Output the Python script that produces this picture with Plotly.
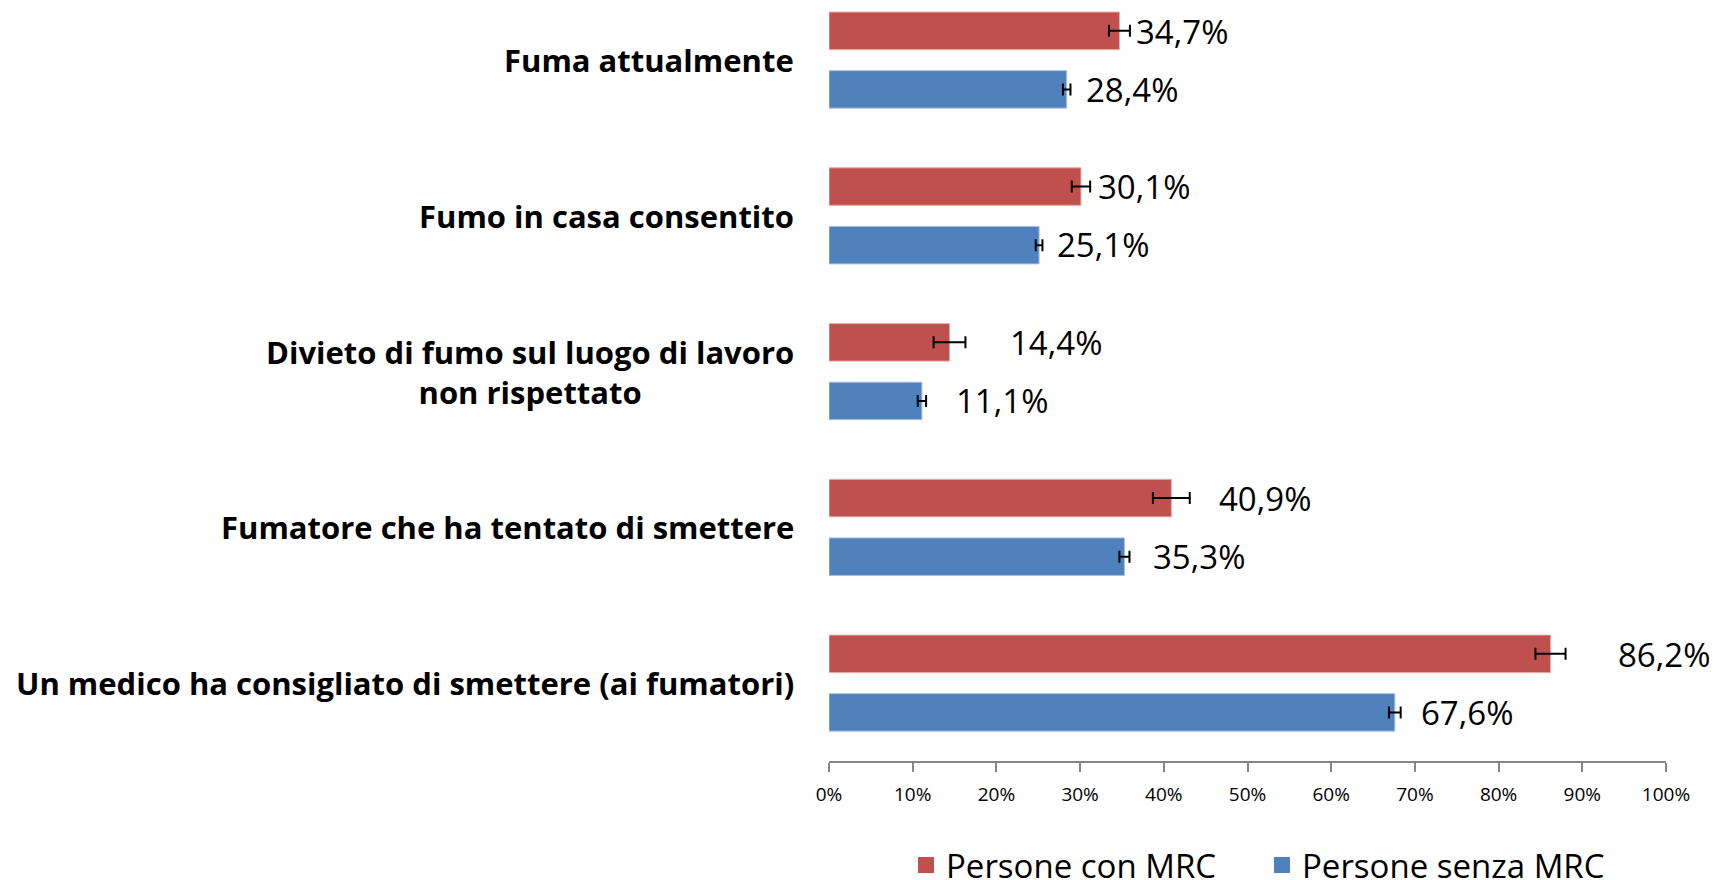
import plotly.graph_objects as go

categories = [
    "Fuma attualmente",
    "Fumo in casa consentito",
    "Divieto di fumo sul luogo di lavoro<br>non rispettato",
    "Fumatore che ha tentato di smettere",
    "Un medico ha consigliato di smettere (ai fumatori)",
]
series_names = ["Persone con MRC", "Persone senza MRC"]
con_mrc = [34.7, 30.1, 14.4, 40.9, 86.2]
senza_mrc = [28.4, 25.1, 11.1, 35.3, 67.6]
con_err = [1.25, 1.1, 1.9, 2.2, 1.8]
senza_err = [0.45, 0.4, 0.5, 0.6, 0.7]
con_labels = ["34,7%", "30,1%", "14,4%", "40,9%", "86,2%"]
senza_labels = ["28,4%", "25,1%", "11,1%", "35,3%", "67,6%"]
tick_vals = [0, 10, 20, 30, 40, 50, 60, 70, 80, 90, 100]
tick_text = ["0%", "10%", "20%", "30%", "40%", "50%", "60%", "70%", "80%", "90%", "100%"]

# styling (label pixel offsets to the right of bar ends)
con_label_shift = [15, 15, 58, 46, 66]
senza_label_shift = [17, 16, 32, 27, 24]
RED = "#C0504D"
BLUE = "#4F81BD"
FONT = "Open Sans"

fig = go.Figure()
fig.add_trace(go.Bar(
    y=categories, x=con_mrc, orientation="h", name=series_names[0], showlegend=False,
    marker=dict(color=RED, line=dict(color="#E3A9A7", width=1)),
    error_x=dict(type="data", array=con_err, color="black", thickness=2, width=6),
))
fig.add_trace(go.Bar(
    y=categories, x=senza_mrc, orientation="h", name=series_names[1], showlegend=False,
    marker=dict(color=BLUE, line=dict(color="#A9C0E0", width=1)),
    error_x=dict(type="data", array=senza_err, color="black", thickness=2, width=6),
))
# legend entries (square swatches)
for nm, col in zip(series_names, [RED, BLUE]):
    fig.add_trace(go.Scatter(x=[None], y=[None], mode="markers", name=nm,
                             marker=dict(symbol="square", size=22, color=col),
                             showlegend=True))

annotations = []
for cat, v, lab, sh in zip(categories, con_mrc, con_labels, con_label_shift):
    annotations.append(dict(x=v, y=cat, xref="x", yref="y", text=lab, showarrow=False,
                            xanchor="left", yanchor="middle", xshift=sh, yshift=29,
                            font=dict(family=FONT, size=33, color="black")))
for cat, v, lab, sh in zip(categories, senza_mrc, senza_labels, senza_label_shift):
    annotations.append(dict(x=v, y=cat, xref="x", yref="y", text=lab, showarrow=False,
                            xanchor="left", yanchor="middle", xshift=sh, yshift=-29,
                            font=dict(family=FONT, size=33, color="black")))
for cat in categories:
    annotations.append(dict(x=0, y=cat, xref="paper", yref="y",
                            text="<b>" + cat.replace("<br>", "</b><br><b>") + "</b>",
                            showarrow=False, xanchor="right", yanchor="middle", align="center",
                            xshift=-33, font=dict(family=FONT, size=31, color="black")))

fig.update_layout(
    width=1717, height=880,
    margin=dict(l=829, r=51, t=0, b=119),
    paper_bgcolor="white", plot_bgcolor="white",
    barmode="group", bargap=0.248, bargroupgap=0.36,
    font=dict(family=FONT, color="black"),
    showlegend=True,
    legend=dict(orientation="h", xref="container", yref="container",
                x=0.735, xanchor="center", y=0.017, yanchor="middle",
                font=dict(family=FONT, size=33, color="black"), traceorder="normal",
                itemsizing="trace", itemwidth=30, entrywidth=311,
                bgcolor="rgba(0,0,0,0)"),
    annotations=annotations,
)
fig.update_xaxes(range=[0, 100], tickvals=tick_vals, ticktext=tick_text,
                 showgrid=False, zeroline=False, showline=True, linecolor="#868686", linewidth=1.5,
                 ticks="outside", ticklen=9, tickcolor="#868686", tickwidth=1.5,
                 ticklabelstandoff=6,
                 tickfont=dict(family=FONT, size=19, color="black"), fixedrange=True)
fig.update_yaxes(type="category", categoryorder="array", categoryarray=categories,
                 range=[4.5, -0.386], showticklabels=False, showgrid=False,
                 zeroline=False, showline=False, ticks="")

fig.write_html("out.html", config={"displayModeBar": False},
               post_script="document.body.style.margin='0';document.body.style.overflow='hidden';")
